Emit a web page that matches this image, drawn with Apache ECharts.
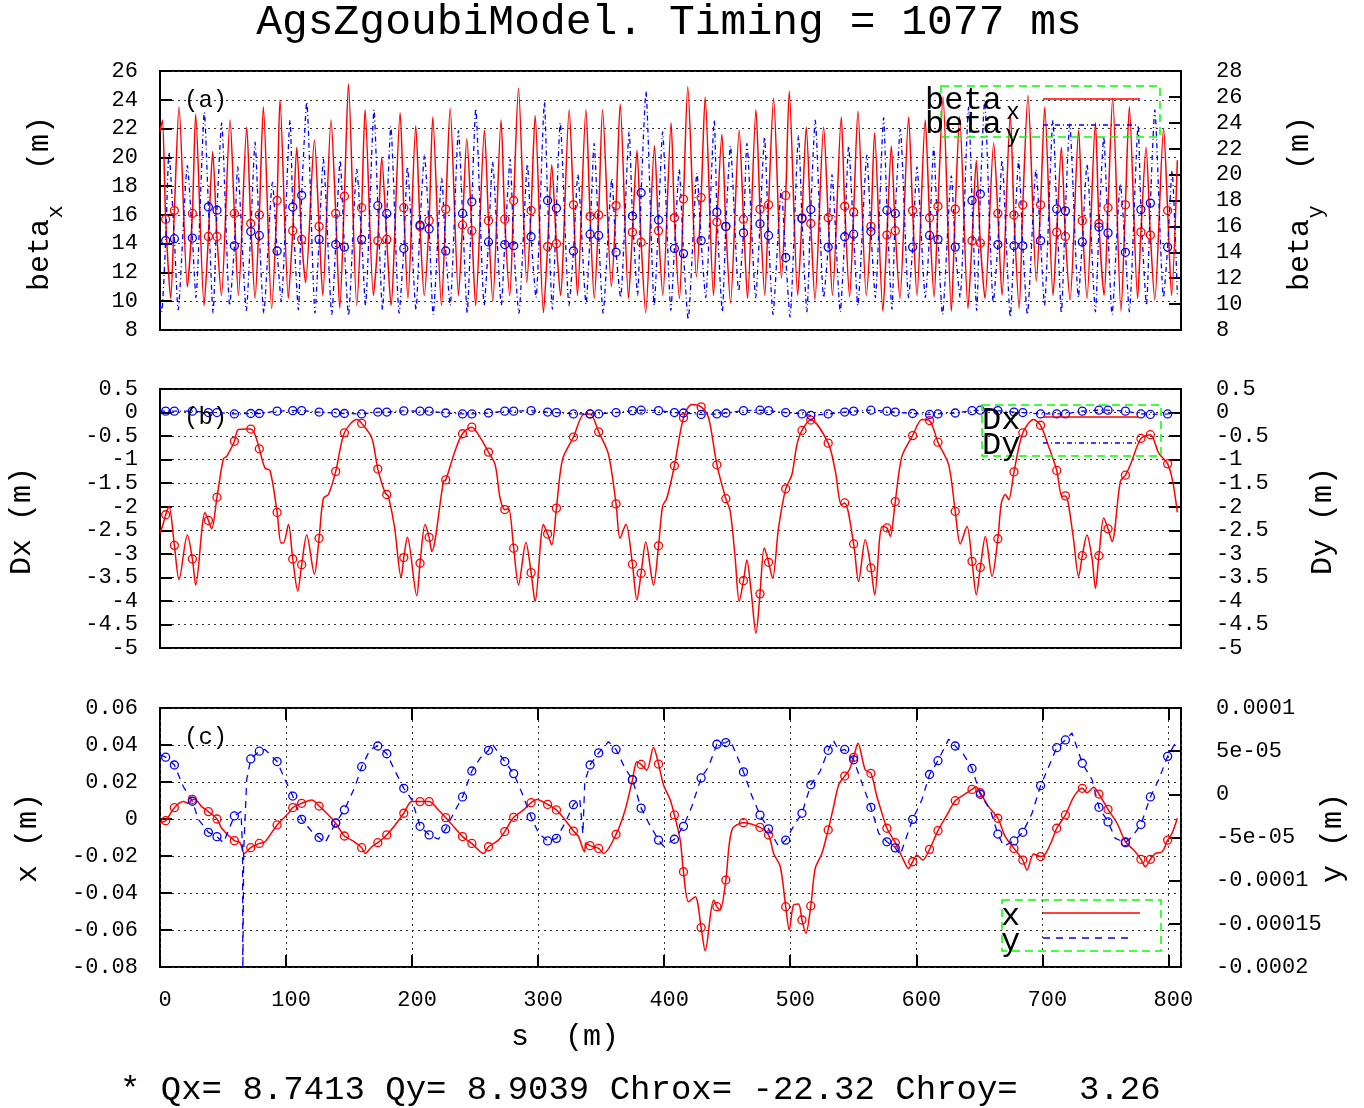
<!DOCTYPE html>
<html>
<head>
<meta charset="utf-8">
<script src="https://cdn.jsdelivr.net/npm/echarts@6/dist/echarts.min.js"></script>
<style>
html,body{margin:0;padding:0;background:#fff;}
#chart{width:1364px;height:1108px;}
</style>
</head>
<body>
<div id="chart"></div>
<script>
// ---- AGS lattice functions from the Zgoubi model at 1077 ms ----

// Longitudinal positions (m) where the circle markers are printed
const markerS = [4.5, 11.4, 25.7, 38.4, 45.2, 59.0, 72.0, 78.8, 92.9, 105.3,
  112.4, 126.2, 139.4, 146.3, 160.0, 172.8, 179.9, 193.4, 206.3, 213.5,
  226.7, 240.0, 247.4, 260.6, 273.5, 280.6, 294.4, 307.5, 314.5, 328.0,
  341.2, 348.0, 361.8, 374.8, 381.7, 395.5, 408.1, 415.3, 429.3, 441.8,
  448.9, 462.9, 476.0, 482.8, 496.4, 509.3, 516.3, 530.1, 543.2, 550.3,
  564.0, 576.7, 583.3, 597.1, 610.5, 617.2, 630.9, 644.2, 650.8, 664.7,
  677.5, 684.5, 698.6, 711.4, 718.3, 731.7, 744.9, 752.1, 765.9, 778.2,
  785.7, 799.4];

// (a) beta_x (m): peaks and troughs of the curve, then values at the markers
const betaXCurve = [[0,21.8],[1.9,22.6],[8.5,10.2],[15.1,23.5],[21.7,11.0],[28.3,23.0],[35.0,9.7],[41.8,20.4],[48.7,10.4],[55.6,22.6],
  [62.2,10.4],[68.8,22.1],[75.4,10.2],[82.0,23.5],[88.6,9.5],[95.2,24.0],[101.8,10.2],[108.5,20.7],[115.5,11.3],[122.5,21.2],
  [129.1,10.4],[135.7,22.6],[142.6,9.5],[149.5,25.1],[156.1,9.7],[162.7,23.3],[169.3,10.4],[175.9,20.0],[183.2,9.7],[190.5,23.1],
  [196.7,10.2],[202.9,22.2],[209.6,10.4],[216.4,22.8],[223.3,9.7],[230.2,23.4],[236.8,10.4],[243.4,21.3],[250.4,9.7],[257.4,21.9],
  [264.0,10.0],[270.6,22.6],[277.5,10.4],[284.4,24.8],[291.0,11.3],[297.6,22.9],[304.2,9.2],[310.8,19.5],[317.7,10.4],[324.6,23.3],
  [331.2,10.4],[337.9,23.3],[344.5,10.2],[351.1,23.3],[358.1,11.0],[365.1,23.7],[371.7,10.2],[378.4,20.5],[385.3,9.2],[392.3,20.8],
  [398.9,10.4],[405.5,22.4],[412.1,10.2],[418.7,24.9],[425.6,11.7],[432.5,24.2],[439.1,10.4],[445.8,21.6],[452.6,9.9],[459.5,21.9],
  [466.1,10.2],[472.8,23.3],[479.8,10.4],[486.8,24.1],[493.0,11.6],[499.2,24.6],[505.9,10.4],[512.7,22.1],[519.6,10.1],[526.5,22.1],
  [533.5,10.4],[540.5,22.8],[547.1,10.3],[553.7,23.2],[560.3,10.4],[566.9,21.7],[573.5,9.3],[580.2,20.8],[587.0,10.2],[593.9,22.8],
  [600.5,10.4],[607.1,22.6],[614.1,10.3],[621.2,24.2],[627.8,9.3],[634.4,22.8],[641.0,9.5],[647.6,19.8],[654.5,10.2],[661.4,21.0],
  [668.0,10.4],[674.6,23.0],[681.6,9.5],[688.6,24.3],[695.2,11.4],[701.9,23.5],[708.5,10.4],[715.1,20.7],[722.0,10.1],[728.8,21.9],
  [735.4,10.2],[742.1,22.4],[749.0,10.4],[755.8,24.1],[762.4,9.3],[769.0,23.5],[775.6,10.2],[782.3,20.7],[789.2,10.1],[796.2,22.0],
  [802.5,10.4],[807.1,19.8]];
const betaXMarks = [15.7, 16.3, 16.1, 14.5, 14.5, 16.1, 15.4, 16.0, 17.0, 14.9,
  14.3, 15.2, 16.1, 17.3, 16.5, 14.2, 14.3, 16.5, 15.2, 15.6,
  16.4, 15.3, 14.9, 15.6, 15.7, 17.0, 16.3, 13.8, 14.0, 16.7,
  15.9, 16.0, 16.65, 14.8, 14.1, 14.9, 15.8, 17.1, 17.2, 15.5,
  15.2, 15.7, 16.4, 16.7, 17.35, 15.8, 15.4, 15.8, 16.6, 16.2,
  15.2, 14.6, 14.9, 16.3, 15.8, 16.6, 16.4, 14.2, 14.05, 16.1,
  16.0, 16.7, 16.7, 14.8, 14.5, 15.6, 15.4, 16.5, 16.7, 14.8,
  14.6, 16.3];

// (a) beta_y (m), right-hand axis
const betaYCurve = [[0,10.0],[1.3,9.4],[7.1,21.7],[14.4,9.55],[21.7,20.7],[28.5,10.5],[35.2,24.8],[42.1,9.3],[48.9,24.0],[55.3,9.9],
  [61.6,20.6],[68.5,9.5],[75.4,22.5],[82.3,9.3],[89.2,19.4],[96.2,10.2],[103.2,24.2],[109.8,9.55],[116.4,25.6],[123.0,9.3],
  [129.6,21.2],[136.3,9.2],[142.9,21.1],[149.5,9.1],[156.1,20.4],[163.0,9.9],[169.8,25.0],[176.5,9.55],[183.1,23.7],[189.7,9.3],
  [196.3,20.6],[203.1,9.55],[209.8,21.5],[216.7,9.2],[223.5,19.7],[230.2,9.9],[236.8,23.4],[243.7,9.3],[250.5,25.1],[257.2,9.9],
  [263.8,21.0],[270.8,9.9],[277.8,21.2],[284.7,9.3],[291.5,20.8],[298.3,10.5],[305.0,25.6],[311.3,9.6],[317.5,24.0],[324.5,9.9],
  [331.5,20.0],[338.0,10.0],[344.4,22.4],[351.5,9.3],[358.5,19.7],[365.4,10.5],[372.2,23.3],[378.9,10.7],[385.5,26.4],[392.1,9.9],
  [398.7,23.3],[405.3,9.5],[411.9,20.4],[419.0,8.8],[426.0,20.1],[432.9,10.5],[439.7,24.2],[446.1,9.4],[452.5,22.2],[459.1,11.0],
  [465.6,22.4],[472.6,10.5],[479.6,22.9],[486.3,9.2],[492.9,18.8],[499.8,9.0],[506.6,23.0],[513.2,9.4],[519.8,24.2],[526.5,10.5],
  [533.1,20.0],[539.7,9.4],[546.3,22.2],[553.6,9.9],[560.8,21.5],[567.5,10.5],[574.1,24.4],[580.7,9.6],[587.3,23.5],[593.9,10.5],
  [600.5,20.6],[607.2,10.5],[613.8,22.1],[620.8,9.2],[627.8,19.9],[634.7,10.5],[641.5,25.2],[647.9,9.5],[654.2,25.7],[661.1,10.1],
  [668.0,21.1],[674.6,9.0],[681.2,21.1],[688.1,9.2],[695.0,20.4],[701.7,9.9],[708.4,24.2],[715.1,9.3],[721.7,23.9],[728.6,10.5],
  [735.4,20.8],[742.1,9.4],[748.7,22.9],[755.3,9.2],[761.9,19.3],[769.0,9.4],[776.0,23.8],[782.6,9.9],[789.2,25.0],[796.1,10.5],
  [802.9,20.3],[807.1,10.7]];
const betaYMarks = [14.9, 15.05, 15.1, 17.5, 17.25, 14.5, 15.6, 15.3, 14.1, 17.5,
  18.4, 15.0, 14.6, 14.4, 15.0, 17.6, 17.0, 14.3, 16.1, 15.8,
  14.1, 17.0, 17.9, 14.8, 14.6, 14.5, 15.2, 18.0, 17.4, 14.1,
  15.4, 15.3, 14.0, 16.8, 18.6, 16.5, 14.3, 13.9, 14.9, 17.1,
  16.0, 15.5, 16.2, 15.3, 13.6, 16.6, 17.3, 14.4, 15.2, 15.4,
  15.6, 17.25, 17.0, 14.4, 15.3, 15.0, 14.4, 18.0, 18.5, 14.6,
  14.5, 14.5, 14.9, 17.35, 17.2, 14.8, 15.95, 15.5, 14.0, 17.3,
  17.8, 14.4];

// (b) horizontal dispersion Dx (m)
const dxCurve = [[0,-2.55],[1.9,-2.42],[7.1,-1.99],[15.1,-3.55],[21.7,-2.60],[28.3,-3.66],[35.7,-2.12],[41,-2.47],[50.3,-0.98],[52.9,-0.93],
  [62.2,-0.36],[68.8,-0.35],[75.4,-0.47],[83.3,-1.18],[87.3,-1.23],[96,-2.77],[97.9,-2.77],[101.9,-2.38],[109.3,-3.79],[116.4,-2.60],
  [122.5,-3.43],[129.6,-1.82],[133.6,-1.74],[156.1,-0.15],[168,-0.54],[178.6,-1.71],[181.2,-1.78],[186,-2.42],[191.3,-3.50],[196.3,-2.65],
  [203.7,-3.89],[210.3,-2.38],[215.6,-2.95],[224.9,-1.46],[234,-0.82],[252.6,-0.47],[265.9,-1.11],[269.8,-1.82],[276.5,-2.04],[284.4,-3.66],
  [290.3,-2.76],[297.6,-4.01],[304.2,-2.38],[310.8,-2.81],[319.3,-1.00],[336,-0.04],[355.8,-0.89],[365,-2.67],[369.6,-2.37],[378.3,-3.98],
  [385.4,-2.75],[391.5,-3.66],[398.7,-1.99],[402.1,-1.82],[421.9,0.17],[435.2,-0.11],[452.4,-2.10],[456.3,-3.09],[459.5,-4.01],[465.6,-3.13],
  [469,-3.80],[472.8,-4.69],[479.4,-2.87],[486,-3.52],[490.7,-2.45],[501.3,-1.32],[505.3,-0.68],[535.8,-1.25],[540.5,-1.96],[554.2,-3.59],
  [559.5,-2.70],[567,-3.87],[572.8,-2.42],[579.4,-2.63],[588.6,-0.93],[604.5,-0.15],[625.7,-1.11],[634.9,-2.79],[640.2,-2.42],[647.6,-3.87],
  [654.8,-2.63],[660.1,-3.48],[667.5,-1.92],[670.7,-1.74],[673.3,-1.85],[693.1,-0.15],[705,-0.72],[715.6,-1.78],[724.1,-2.56],[728.8,-3.48],
  [735.4,-2.60],[739.4,-3.09],[742.1,-3.73],[748.7,-2.24],[755.3,-2.74],[761.9,-1.46],[769.8,-1.11],[792.3,-0.86],[803.4,-1.46],[807.1,-2.12]];
const dxMarks = [-2.17, -2.82, -3.11, -2.29, -1.80, -0.61, -0.35, -0.77, -2.12, -3.11,
  -3.23, -2.67, -1.25, -0.43, -0.23, -1.20, -1.74, -3.08, -3.20, -2.65,
  -1.43, -0.45, -0.31, -0.84, -2.06, -2.88, -3.40, -2.58, -2.03, -0.52,
  -0.03, -0.41, -1.94, -3.22, -3.41, -2.83, -1.13, -0.11, 0.12, -1.11,
  -1.83, -3.57, -3.85, -3.18, -1.62, -0.38, -0.16, -0.65, -1.92, -2.79,
  -3.30, -2.45, -1.89, -0.49, -0.17, -0.63, -2.10, -3.16, -3.29, -2.68,
  -1.26, -0.43, -0.27, -1.23, -1.77, -3.04, -3.04, -2.47, -1.33, -0.55,
  -0.47, -1.09];

// (b) vertical dispersion Dy (m)
const dyCurve = [[0,0.03],[807.1,0.0]];
const dyMarks = [0.03, 0.03, 0.03, 0, 0, -0.03, -0.02, -0.02, 0.03, 0.04,
  0.04, 0.01, -0.01, -0.02, -0.03, 0.01, 0.01, 0.035, 0.03, 0.03,
  -0.01, -0.03, -0.03, -0.01, 0.03, 0.03, 0.04, 0.01, 0, -0.03,
  -0.03, -0.03, 0, 0.04, 0.05, 0.04, 0, -0.01, -0.04, -0.03,
  -0.01, 0.04, 0.05, 0.04, 0, -0.03, -0.06, -0.03, 0.01, 0.03,
  0.05, 0.03, 0.01, -0.02, -0.04, -0.03, -0.01, 0.04, 0.05, 0.04,
  0.01, 0, -0.03, -0.03, -0.03, 0.03, 0.05, 0.05, 0.03, -0.03,
  -0.04, -0.03];

// (c) horizontal closed orbit x (m)
const xCurve = [[0,-0.002],[18.5,0.0094],[22.5,0.0085],[27.8,0.0106],[33.1,0.0067],[48.9,-0.005],[63.5,-0.0128],[66.9,-0.0186],[83.3,-0.0123],[101.9,0.0031],
  [120.4,0.0103],[133.6,0.0022],[152,-0.0114],[162.7,-0.0186],[168,-0.015],[186.5,-0.0032],[199.7,0.0094],[220.9,0.0049],[234.1,-0.005],[256.6,-0.0186],
  [268.5,-0.0114],[288.4,0.0049],[299,0.0106],[321.4,-0.0005],[332,-0.0095],[336.8,-0.0177],[337.8,-0.013],[351.9,-0.0186],[369,0.0049],[378.3,0.031],
  [386.2,0.0265],[391.5,0.0387],[399.5,0.0184],[404.8,0.0103],[412.7,-0.0114],[419.3,-0.0447],[424.6,-0.042],[432.5,-0.0712],[439.2,-0.0438],[444.4,-0.0492],
  [453.7,-0.0059],[486.8,-0.0186],[492.1,-0.0258],[499.2,-0.06],[502.6,-0.0465],[506.6,-0.0459],[512.4,-0.0618],[519.8,-0.0267],[525.1,-0.0186],[534.4,0.0067],
  [538.4,0.0184],[546.8,0.0265],[553.7,0.0409],[559.5,0.0265],[568.8,0.012],[572.8,0.0031],[588.6,-0.0204],[593.9,-0.0267],[600.5,-0.0195],[605,-0.0222],
  [624.3,0.0022],[637.6,0.013],[647.4,0.0175],[657.4,0.0067],[670.6,-0.0095],[687.8,-0.0276],[693.1,-0.0189],[702.4,-0.0189],[707.7,-0.0114],[724.9,0.012],
  [735.4,0.0142],[740.7,0.0171],[759.3,-0.0023],[772.5,-0.0168],[781.7,-0.0258],[789.7,-0.0186],[795,-0.0177],[802.9,-0.0077],[807.1,0.0004]];
const xMarks = [-0.0009, 0.0061, 0.0106, 0.004, 0.0, -0.0117, -0.0155, -0.0132, -0.0032, 0.0061,
  0.0085, 0.007, -0.0023, -0.0092, -0.0155, -0.0128, -0.0086, 0.0031, 0.0094, 0.0094,
  0.0007, -0.0095, -0.0132, -0.015, -0.0068, 0.0009, 0.0088, 0.0079, 0.0049, -0.0065,
  -0.0144, -0.0159, -0.0083, 0.0211, 0.0295, 0.0297, 0.0022, -0.0285, -0.0587, -0.0474,
  -0.033, -0.002, -0.0045, -0.0086, -0.0474, -0.0546, -0.047, -0.0059, 0.0232, 0.0333,
  0.0247, -0.005, -0.0128, -0.0231, -0.0164, -0.0063, 0.0099, 0.016, 0.0142, 0.0004,
  -0.0159, -0.0222, -0.0203, -0.005, 0.0022, 0.0166, 0.0135, 0.0052, -0.0123, -0.0218,
  -0.0218, -0.0114];

// (c) vertical closed orbit y, in units of 1e-5 m (right-hand axis)
const yCurveE5 = [[0,4.6],[18.5,0.9],[30.4,-2.9],[50.3,-5.6],[64.3,-2.0],[65.5,-6.5],[65.7,-21],[66.1,-21],[66.4,-6.5],[68.8,1.7],
  [83.3,5.2],[99.2,1.7],[120.4,-4.3],[131,-5.6],[154.8,0.9],[166.7,5.2],[186.5,2.7],[199.7,-0.6],[220.9,-5.2],[233.6,-2.0],
  [254,4.2],[263.2,5.9],[287,0.2],[300.3,-4.5],[321.4,-3.3],[333,-0.5],[335.5,-4.6],[336.2,-4.6],[337,1.5],[355.8,6.1],
  [369,3.0],[387.6,-3.3],[399.5,-6.0],[421.9,-1.4],[435.2,3.2],[452.4,6.3],[469.6,-0.2],[490.7,-6.0],[502.6,-3.7],[523.8,2.7],
  [534,6.3],[539,5.0],[556.9,1.3],[570.1,-4.5],[587.3,-7.0],[604.5,-0.6],[625.7,6.4],[637.6,4.6],[658.7,-1.8],[669.3,-6.0],
  [691.8,-2.2],[705,3.2],[723.5,7.1],[739.4,1.7],[757.9,-5.1],[771.2,-4.9],[792.3,1.7],[805.4,5.9],[807.1,5.5]];
const yMarksE5 = [4.3, 3.4, -0.8, -4.4, -4.9, -2.5, 4.1, 5.0, 3.8, -0.2,
  -2.9, -5.0, -3.3, -1.8, 3.2, 5.6, 4.7, 0.7, -3.7, -4.7,
  -4.0, -0.3, 2.7, 5.1, 3.8, 2.4, -2.6, -5.4, -5.1, -1.2,
  3.4, 4.8, 5.2, 1.7, -1.6, -5.3, -5.2, -3.7, 1.9, 5.8,
  6.0, 2.6, -2.4, -4.0, -5.3, -2.2, 1.1, 5.1, 5.2, 4.0,
  -1.5, -5.5, -6.2, -2.9, 2.3, 3.9, 5.6, 3.0, 0.0, -4.6,
  -5.4, -4.4, 1.0, 5.4, 6.3, 3.6, -1.5, -3.2, -5.6, -3.5,
  -0.3, 4.4];

// Tick labels
const sTicks = ['0','100','200','300','400','500','600','700','800'];
const betaXTicks = ['8','10','12','14','16','18','20','22','24','26'];
const betaYTicks = ['8','10','12','14','16','18','20','22','24','26','28'];
const dispTicks = ['-5','-4.5','-4','-3.5','-3','-2.5','-2','-1.5','-1','-0.5','0','0.5'];
const xOrbitTicks = ['-0.08','-0.06','-0.04','-0.02','0','0.02','0.04','0.06'];
const yOrbitTicks = ['-0.0002','-0.00015','-0.0001','-5e-05','0','5e-05','0.0001'];

// ---- building the chart ----
const FONT = '"Liberation Mono", "DejaVu Sans Mono", monospace';
const RED = '#ff0000', BLUE = '#0000ff';
const S_MAX = 810;

function withMarkers(curve, marks, scale) {
  const pts = curve.map(p => ({ value: [p[0], p[1] * scale], symbol: 'none' }));
  markerS.forEach((s, i) => pts.push({ value: [s, marks[i] * scale] }));
  pts.sort((a, b) => a.value[0] - b.value[0]);
  return pts;
}

function tickFormatter(labels, min, step) {
  return v => {
    const k = Math.round((v - min) / step);
    return (Math.abs(v - (min + k * step)) < step * 1e-6 && labels[k] !== undefined) ? labels[k] : '';
  };
}

const gridBase = { left: 160, width: 1021, height: 259, show: true, borderColor: '#000', borderWidth: 2,
  backgroundColor: 'transparent', containLabel: false, outerBoundsMode: 'none' };
const grids = [
  Object.assign({ top: 71 }, gridBase),
  Object.assign({ top: 389 }, gridBase),
  Object.assign({ top: 708 }, gridBase)
];

const gridDots = { show: true, lineStyle: { color: '#333', width: 1, type: [2, 4] } };
const tickStyle = { show: true, inside: true, length: 12, lineStyle: { color: '#000', width: 2 } };

function yAxis(gridIndex, side, min, max, step, labels) {
  return {
    type: 'value', gridIndex, position: side, min, max, interval: step,
    axisLine: { show: false, onZero: false },
    axisTick: tickStyle,
    axisLabel: {
      show: true, color: '#000', fontFamily: FONT, fontSize: 22,
      margin: side === 'left' ? 22 : 35,
      showMinLabel: true, showMaxLabel: true,
      formatter: tickFormatter(labels, min, step)
    },
    splitLine: side === 'left' ? gridDots : { show: false }
  };
}

const xHidden = gi => ({ type: 'value', gridIndex: gi, min: 0, max: S_MAX, show: false,
  axisLine: { onZero: false }, splitLine: { show: false } });

const xAxes = [
  xHidden(0),
  xHidden(1),
  { type: 'value', gridIndex: 2, position: 'bottom', min: 0, max: S_MAX, interval: 100,
    axisLine: { show: false, onZero: false }, axisTick: tickStyle,
    axisLabel: { color: '#000', fontFamily: FONT, fontSize: 22, margin: 22, padding: [0, 0, 0, 10],
      showMaxLabel: false, formatter: tickFormatter(sTicks, 0, 100) },
    splitLine: gridDots },
  { type: 'value', gridIndex: 2, position: 'top', min: 0, max: S_MAX, interval: 100,
    axisLine: { show: false, onZero: false }, axisTick: tickStyle, axisLabel: { show: false }, splitLine: { show: false } }
];

const yAxes = [
  yAxis(0, 'left', 8, 26, 2, betaXTicks),
  yAxis(0, 'right', 8, 28, 2, betaYTicks),
  yAxis(1, 'left', -5, 0.5, 0.5, dispTicks),
  yAxis(1, 'right', -5, 0.5, 0.5, dispTicks),
  yAxis(2, 'left', -0.08, 0.06, 0.02, xOrbitTicks),
  yAxis(2, 'right', -0.0002, 0.0001, 0.00005, yOrbitTicks)
];

function curveSeries(name, xi, yi, data, color, dash, width, smooth) {
  return {
    name, type: 'line', xAxisIndex: xi, yAxisIndex: yi, data,
    symbol: 'circle', symbolSize: 8, showSymbol: true, clip: true,
    smooth: smooth || false,
    lineStyle: { color, width, type: dash },
    itemStyle: { color: 'rgba(0,0,0,0)', borderColor: color, borderWidth: 1.3 },
    emphasis: { disabled: true }, silent: true, animation: false
  };
}

const DASHDOT = [5, 3, 1, 3];
const DASH = [7, 6];

const series = [
  curveSeries('beta_x', 0, 0, withMarkers(betaXCurve, betaXMarks, 1), RED, 'solid', 1.5, 0.25),
  curveSeries('beta_y', 0, 1, withMarkers(betaYCurve, betaYMarks, 1), BLUE, DASHDOT, 1.3, 0.2),
  curveSeries('Dx', 1, 2, withMarkers(dxCurve, dxMarks, 1), RED, 'solid', 1.5, 0.3),
  curveSeries('Dy', 1, 3, withMarkers(dyCurve, dyMarks, 1), BLUE, DASHDOT, 1.3, false),
  curveSeries('x', 2, 4, withMarkers(xCurve, xMarks, 1), RED, 'solid', 1.5, 0.3),
  curveSeries('y', 2, 5, withMarkers(yCurveE5, yMarksE5, 1e-5), BLUE, DASH, 1.3, false)
];

// ---- text, axis titles and keys ----
function txt(text, x, y, size, opts) {
  opts = opts || {};
  return {
    type: 'text', x, y, rotation: opts.rot || 0, z: 100, silent: true,
    style: { text, font: size + 'px ' + FONT, fill: '#000',
      align: opts.align || 'center', verticalAlign: 'middle' }
  };
}
function keyLine(x1, x2, y, color, dash) {
  return { type: 'line', z: 100, silent: true, shape: { x1, y1: y, x2, y2: y },
    style: { stroke: color, lineWidth: 1.5, lineDash: dash || null } };
}
function keyBox(x, y, w, h) {
  return { type: 'rect', z: 99, silent: true, shape: { x, y, width: w, height: h },
    style: { fill: 'none', stroke: '#00ff00', lineWidth: 1.5, lineDash: [8, 5] } };
}
const UP = Math.PI / 2;

const graphic = [
  txt('AgsZgoubiModel. Timing = 1077 ms', 669, 23, 43),
  txt('s  (m)', 565, 1037, 30),
  txt('* Qx= 8.7413 Qy= 8.9039 Chrox= -22.32 Chroy=   3.26', 120, 1090, 34, { align: 'left' }),

  // vertical axis titles
  txt('beta', 40, 255, 30, { rot: UP }), txt('x', 56, 212, 22, { rot: UP }), txt('(m)', 40, 143, 30, { rot: UP }),
  txt('beta', 1300, 255, 30, { rot: UP }), txt('y', 1316, 212, 22, { rot: UP }), txt('(m)', 1300, 143, 30, { rot: UP }),
  txt('Dx (m)', 22, 521, 30, { rot: UP }),
  txt('Dy (m)', 1323, 521, 30, { rot: UP }),
  txt('x (m)', 28, 838, 30, { rot: UP }),
  txt('y (m)', 1333, 838, 30, { rot: UP }),

  // panel tags
  txt('(a)', 184, 101, 24, { align: 'left' }),
  txt('(b)', 184, 418, 24, { align: 'left' }),
  txt('(c)', 184, 738, 24, { align: 'left' }),

  // keys
  keyBox(941, 86, 219, 51),
  txt('beta', 925, 101, 32, { align: 'left' }), txt('x', 1006, 113, 23, { align: 'left' }),
  txt('beta', 925, 125, 32, { align: 'left' }), txt('y', 1006, 136, 23, { align: 'left' }),
  keyLine(1043, 1140, 99, RED), keyLine(1043, 1138, 125, BLUE, DASHDOT),

  keyBox(982, 405, 179, 51),
  txt('Dx', 982, 421, 32, { align: 'left' }), txt('Dy', 982, 446, 32, { align: 'left' }),
  keyLine(1043, 1139, 417, RED), keyLine(1043, 1139, 443, BLUE, DASHDOT),

  keyBox(1002, 900, 159, 51),
  txt('x', 1001, 917, 32, { align: 'left' }), txt('y', 1001, 942, 32, { align: 'left' }),
  keyLine(1043, 1140, 913, RED), keyLine(1043, 1133, 938, BLUE, DASH)
];

const chart = echarts.init(document.getElementById('chart'), null, { renderer: 'canvas' });
chart.setOption({
  animation: false,
  backgroundColor: '#fff',
  textStyle: { fontFamily: FONT },
  grid: grids,
  xAxis: xAxes,
  yAxis: yAxes,
  series,
  graphic
});
</script>
</body>
</html>
